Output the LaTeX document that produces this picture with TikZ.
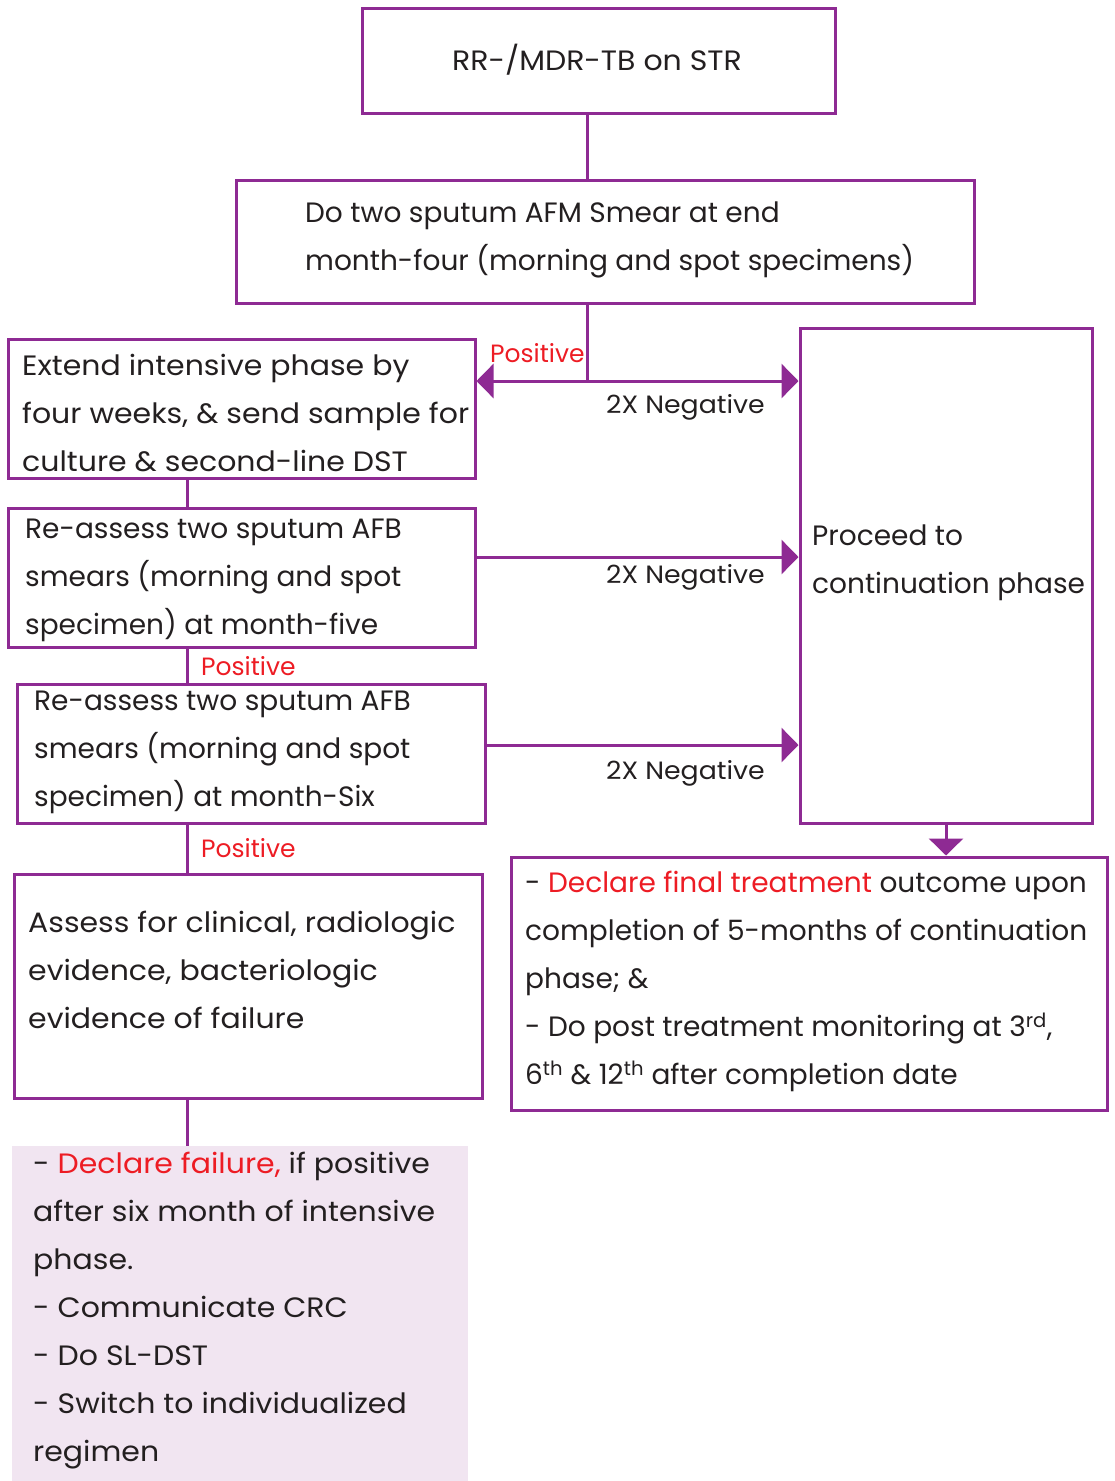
\documentclass[tikz,border=0pt]{standalone}
\usepackage{fontspec}
\setmainfont{Poppins}[FakeStretch=1.07]
\newfontfamily\narrowf{Poppins}
\usetikzlibrary{arrows.meta}
\definecolor{pur}{HTML}{8E2A93}
\definecolor{redt}{HTML}{ED1C24}
\definecolor{fillp}{HTML}{F1E5F1}
\definecolor{txt}{HTML}{231F20}
\tikzset{
  box/.style={draw=pur, line width=3pt, inner sep=0pt},
  conn/.style={draw=pur, line width=3pt},
  arr/.style={conn, -{Triangle[length=17pt,width=34pt]}},
  tx/.style={anchor=west, inner sep=0pt, align=left, text=txt, font=\fontsize{28}{48}\selectfont},
  txn/.style={tx, font=\narrowf\fontsize{28}{48}\selectfont},
  lab/.style={inner sep=0pt, font=\fontsize{25}{30}\selectfont},
  labn/.style={inner sep=0pt, font=\narrowf\fontsize{25}{30}\selectfont},
}
\newcommand{\rd}[1]{\textcolor{redt}{#1}}
\begin{document}
\begin{tikzpicture}[x=1pt,y=-1pt]
\useasboundingbox (0,0) rectangle (1115,1481);
% boxes
\node[box, minimum width=473pt, minimum height=105pt] (b1) at (598.5,60.5) {};
\node[box, minimum width=738pt, minimum height=123pt] (b2) at (605,241.5) {};
\node[box, minimum width=467pt, minimum height=139pt] (b3) at (241.5,408.5) {};
\node[box, minimum width=292pt, minimum height=495pt] (pr) at (946,575.5) {};
\node[box, minimum width=467pt, minimum height=139pt] (b4) at (241.5,577.5) {};
\node[box, minimum width=468pt, minimum height=139pt] (b5) at (251,753.5) {};
\node[box, minimum width=468pt, minimum height=224pt] (b6) at (248,986) {};
\node[fill=fillp, inner sep=0pt, minimum width=456pt, minimum height=336pt] (b7) at (240,1314) {};
\node[box, minimum width=596pt, minimum height=253pt] (b8) at (809,983.5) {};
% texts
\node[anchor=center, inner sep=0pt, text=txt, font=\fontsize{28}{48}\selectfont] (t1) at (597,60) {RR-/MDR-TB on STR};
\node[txn] (t2) at (305,240) {Do two sputum AFM Smear at end\\month-four (morning and spot specimens)};
\node[tx] (t3) at (22,413) {Extend intensive phase by\\four weeks, \& send sample for\\culture \& second-line DST};
\node[txn] (tp) at (812,563) {Proceed to\\continuation phase};
\node[txn] (t4) at (25,580) {Re-assess two sputum AFB\\smears (morning and spot\\specimen) at month-five};
\node[txn] (t5) at (34,752) {Re-assess two sputum AFB\\smears (morning and spot\\specimen) at month-Six};
\node[tx] (t6) at (28,970) {Assess for clinical, radiologic\\evidence, bacteriologic\\evidence of failure};
\node[tx] (t7) at (33,1311) {- \rd{Declare failure,} if positive\\after six month of intensive\\phase.\\- Communicate CRC\\- Do SL-DST\\- Switch to individualized\\regimen};
\node[txn] (t8) at (525,981) {- \rd{Declare final treatment} outcome upon\\completion of 5-months of continuation\\phase; \&\\- Do post treatment monitoring at 3\textsuperscript{rd},\\6\textsuperscript{th} \& 12\textsuperscript{th} after completion date};
% connectors
\coordinate (j) at (587,381);
\draw[conn] (b1.south -| j) -- (b2.north -| j);
\draw[conn] (b2.south -| j) -- (j);
\draw[arr] (j) -- (b3.east |- j);
\draw[arr] (j) -- (pr.west |- j);
\coordinate (c4) at (475,557);
\draw[arr] (b4.east |- c4) -- (pr.west |- c4);
\coordinate (c5) at (485,745);
\draw[arr] (b5.east |- c5) -- (pr.west |- c5);
\coordinate (v) at (187,0);
\draw[conn] (b3.south -| v) -- (b4.north -| v);
\draw[conn] (b4.south -| v) -- (b5.north -| v);
\draw[conn] (b5.south -| v) -- (b6.north -| v);
\draw[conn] (b6.south -| v) -- (b7.north -| v);
\draw[arr] (pr.south) -- (b8.north -| pr.south);
% labels
\node[labn, text=redt, anchor=west] (l1) at (490,353) {Positive};
\node[lab, text=txt, anchor=east] (n1) at (765,407) {2X Negative};
\node[lab, text=txt, anchor=east] (n2) at (765,577) {2X Negative};
\node[lab, text=txt, anchor=east] (n3) at (765,773) {2X Negative};
\node[labn, text=redt, anchor=west] (l2) at (201,666) {Positive};
\node[labn, text=redt, anchor=west] (l3) at (201,848) {Positive};
\end{tikzpicture}
\end{document}
